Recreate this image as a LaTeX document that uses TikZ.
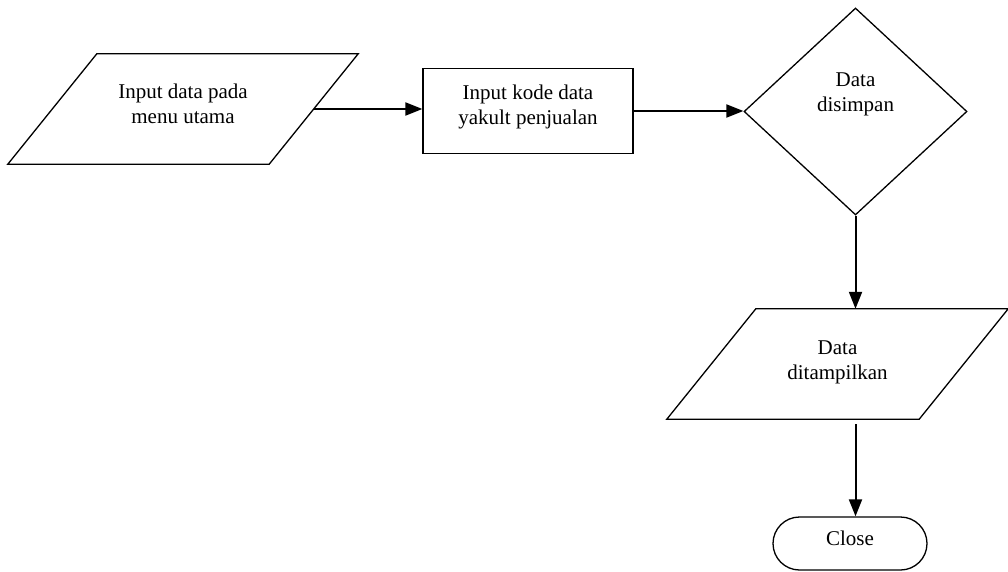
\documentclass[tikz,border=0pt]{standalone}
\usepackage{fontspec}
\setmainfont{Liberation Serif}
\usepackage{tikz}
\usetikzlibrary{arrows.meta}
\usetikzlibrary{shapes.geometric}
\tikzset{>={Triangle[length=17pt,width=13pt]}}
\tikzstyle{txt} = [font=\fontsize{21}{25}\selectfont, align=center]
\tikzstyle{io} = [rectangle, inner sep=0, append after command={\pgfextra{\draw [line width=1.3pt] ([xshift=44.5pt]\tikzlastnode.north west) -- ([xshift=44.5pt]\tikzlastnode.north east) -- ([xshift=-44.5pt]\tikzlastnode.south east) -- ([xshift=-44.5pt]\tikzlastnode.south west) -- cycle;}}]
\tikzstyle{proc} = [draw, rectangle, inner sep=0, line width=1.3pt]
\tikzstyle{dec} = [draw, diamond, inner sep=0, line width=1.3pt]
\tikzstyle{term} = [draw, rectangle, rounded corners=26.5pt, inner sep=0, line width=1.3pt]
\tikzstyle{flow} = [->, line width=2pt]

\begin{document}
\begin{tikzpicture}[x=1pt, y=-1pt]
\useasboundingbox (0,0) rectangle (1008,572);
\node [io, minimum width=261pt, minimum height=110pt, label={[txt, yshift=5pt]center:Input data pada\\menu utama}] (inp) at (183, 109) {};
\node [proc, minimum width=210pt, minimum height=85pt, label={[txt, yshift=4pt]center:Input kode data\\yakult penjualan}] (kode) at (528, 111) {};
\node [dec, minimum width=223pt, minimum height=207pt, label={[txt, yshift=17.5pt]center:Data\\disimpan}] (simpan) at (855.5, 111.5) {};
\node [io, minimum width=252pt, minimum height=110pt, label={[txt, yshift=2pt]center:Data\\ditampilkan}] (tampil) at (837.5, 364) {};
\node [term, minimum width=154pt, minimum height=53pt, label={[txt, yshift=5pt]center:Close}] (close) at (850, 543.5) {};
\draw [flow] (inp.east) -- (inp.east -| kode.west);
\draw [flow] (kode.east) -- (kode.east -| simpan.west);
\draw [flow] (simpan.south) -- (simpan.south |- tampil.north);
\draw [flow, shorten <=5pt] (tampil.south -| simpan.south) -- (close.north -| simpan.south);
\end{tikzpicture}
\end{document}
